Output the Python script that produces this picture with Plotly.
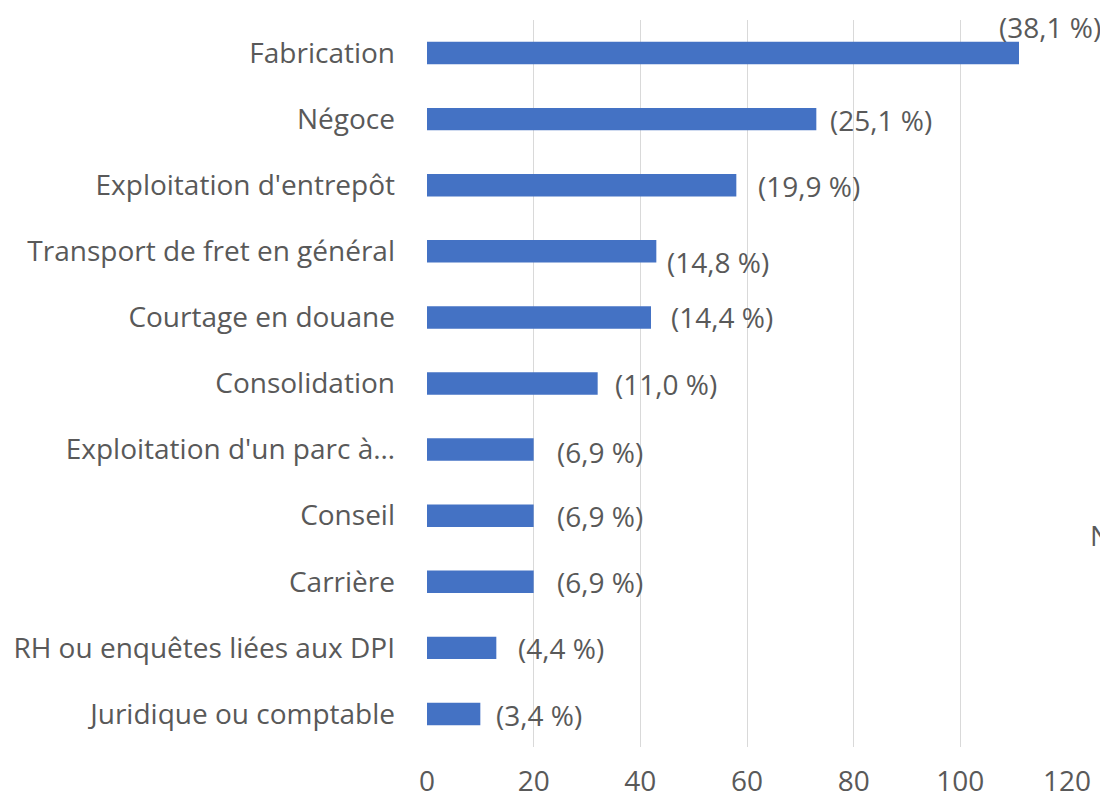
import plotly.graph_objects as go

# Données : secteurs d'activité, nombre de réponses et pourcentages
categories = [
    "Fabrication",
    "Négoce",
    "Exploitation d'entrepôt",
    "Transport de fret en général",
    "Courtage en douane",
    "Consolidation",
    "Exploitation d'un parc à…",
    "Conseil",
    "Carrière",
    "RH ou enquêtes liées aux DPI",
    "Juridique ou comptable",
]
valeurs = [111, 73, 58, 43, 42, 32, 20, 20, 20, 13, 10]
pourcentages = ["(38,1 %)", "(25,1 %)", "(19,9 %)", "(14,8 %)", "(14,4 %)",
                "(11,0 %)", "(6,9 %)", "(6,9 %)", "(6,9 %)", "(4,4 %)", "(3,4 %)"]
ticks_x = [0, 20, 40, 60, 80, 100, 120]

# Décalages des étiquettes (pixels, y positif vers le bas)
decal_x = [-22, 12, 20, 9, 18, 15, 21, 21, 21, 20, 14]
decal_y = [-26, 1, 1, 11, 0, 0, 2, 0, 0, 0, 1]

gris = "#595959"
police = "Open Sans"
taille = 28

fig = go.Figure()
fig.add_trace(go.Bar(
    y=categories, x=valeurs, orientation="h",
    marker=dict(color="#4472C4", line=dict(width=0)),
    width=0.34, hoverinfo="x+y",
))

for cat, val, txt, dx, dy in zip(categories, valeurs, pourcentages, decal_x, decal_y):
    fig.add_annotation(x=val, y=cat, text=txt, showarrow=False,
                       xanchor="left", yanchor="middle", xshift=dx, yshift=-dy,
                       font=dict(family=police, size=taille, color=gris))

# Texte tronqué à droite du graphique d'origine
fig.add_annotation(x=1.033, y=0.292, xref="paper", yref="paper", text="N",
                   showarrow=False, xanchor="left", yanchor="middle",
                   font=dict(family=police, size=taille, color=gris))

# la page ajoute 8 px de marge : on compense
fig.update_layout(
    width=1100, height=793,
    margin=dict(l=419, r=41, t=12, b=54),
    plot_bgcolor="white", paper_bgcolor="white",
    showlegend=False,
    font=dict(family=police, color=gris),
    xaxis=dict(range=[0, 120], tickvals=ticks_x, showgrid=True,
               gridcolor="#D9D9D9", gridwidth=1.3, zeroline=False,
               showline=False, ticks="", ticklabelstandoff=15,
               automargin=False,
               tickfont=dict(family=police, size=taille, color=gris)),
    yaxis=dict(autorange="reversed", showgrid=False, showline=False,
               ticks="", ticklabelstandoff=31, automargin=False,
               tickfont=dict(family=police, size=taille, color=gris)),
)

fig.write_html("out.html")
